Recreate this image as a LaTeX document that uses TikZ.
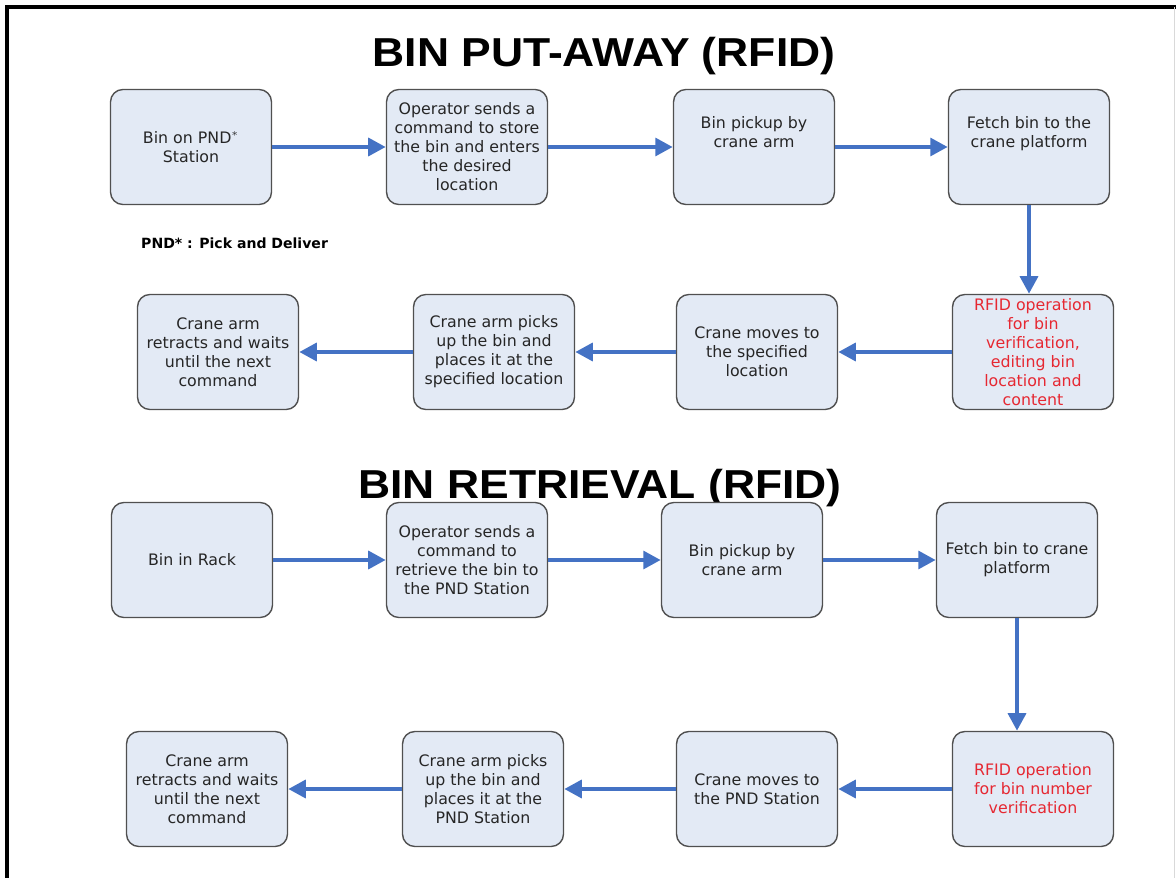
\documentclass[tikz,border=0pt]{standalone}
\usepackage{fontspec}
\setmainfont{DejaVu Sans}
\newfontfamily\titlefont{Liberation Sans}
\usetikzlibrary{arrows.meta}
\definecolor{boxfill}{RGB}{227,234,245}
\definecolor{boxline}{RGB}{80,80,80}
\definecolor{flowblue}{RGB}{68,114,196}
\definecolor{rfidred}{RGB}{230,40,50}

\begin{document}
\begin{tikzpicture}[x=0.02cm, y=-0.02cm,
  stepbox/.style={draw=boxline, fill=boxfill, line width=0.8pt, rounded corners=7pt,
    minimum width=3.22cm, minimum height=2.3cm, inner sep=2pt, align=center,
    font=\fontsize{9}{10.8}\selectfont, text=black!85},
  flow/.style={draw=flowblue, line width=2.8pt, -{Triangle[length=10pt,width=10pt]}},
  heading/.style={anchor=base, xscale=1.1, transform shape,
    font=\titlefont\bfseries\fontsize{23}{28}\selectfont}]
  \useasboundingbox (0,0) rectangle (1176,878);
  \draw[line width=1.8pt] (7,878) -- (7,7) -- (1176,7);
  \draw[black!15] (1174,7) -- (1174,878);

  % put-away
  \node[heading] (t1) at (604,67) {BIN PUT-AWAY (RFID)};
  \node[stepbox] (p1) at (191,147) {Bin on PND$^{*}$\\Station};
  \node[stepbox] (p2) at (467,147) {Operator sends a\\command to store\\the bin and enters\\the desired\\location};
  \node[stepbox] (p3) at (754,147) {Bin pickup by\\crane arm\\[6pt]};
  \node[stepbox] (p4) at (1029,147) {Fetch bin to the\\crane platform\\[6pt]};
  \node[font=\bfseries\fontsize{8}{10}\selectfont, anchor=west] (pnd) at (135,243) {PND* : Pick and Deliver};
  \node[stepbox] (p8) at (1033,352) {\color{rfidred}RFID operation\\\color{rfidred}for bin\\\color{rfidred}verification,\\\color{rfidred}editing bin\\\color{rfidred}location and\\\color{rfidred}content};
  \node[stepbox] (p7) at (757,352) {Crane moves to\\the specified\\location};
  \node[stepbox] (p6) at (494,352) {Crane arm picks\\up the bin and\\places it at the\\specified location};
  \node[stepbox] (p5) at (218,352) {Crane arm\\retracts and waits\\until the next\\command};

  \draw[flow] (p1) -- (p2);
  \draw[flow] (p2) -- (p3);
  \draw[flow] (p3) -- (p4);
  \draw[flow] (p4.south) -- (p4.south |- p8.north);
  \draw[flow] (p8) -- (p7);
  \draw[flow] (p7) -- (p6);
  \draw[flow] (p6) -- (p5);

  % retrieval
  \node[heading] (t2) at (600,498) {BIN RETRIEVAL (RFID)};
  \node[stepbox] (r1) at (192,560) {Bin in Rack};
  \node[stepbox] (r2) at (467,560) {Operator sends a\\command to\\retrieve the bin to\\the PND Station};
  \node[stepbox] (r3) at (742,560) {Bin pickup by\\crane arm};
  \node[stepbox] (r4) at (1017,560) {Fetch bin to crane\\platform};
  \node[stepbox] (r8) at (1033,789) {\color{rfidred}RFID operation\\\color{rfidred}for bin number\\\color{rfidred}verification};
  \node[stepbox] (r7) at (757,789) {Crane moves to\\the PND Station};
  \node[stepbox] (r6) at (483,789) {Crane arm picks\\up the bin and\\places it at the\\PND Station};
  \node[stepbox] (r5) at (207,789) {Crane arm\\retracts and waits\\until the next\\command};

  \draw[flow] (r1) -- (r2);
  \draw[flow] (r2) -- (r3);
  \draw[flow] (r3) -- (r4);
  \draw[flow] (r4.south) -- (r4.south |- r8.north);
  \draw[flow] (r8) -- (r7);
  \draw[flow] (r7) -- (r6);
  \draw[flow] (r6) -- (r5);
\end{tikzpicture}
\end{document}
